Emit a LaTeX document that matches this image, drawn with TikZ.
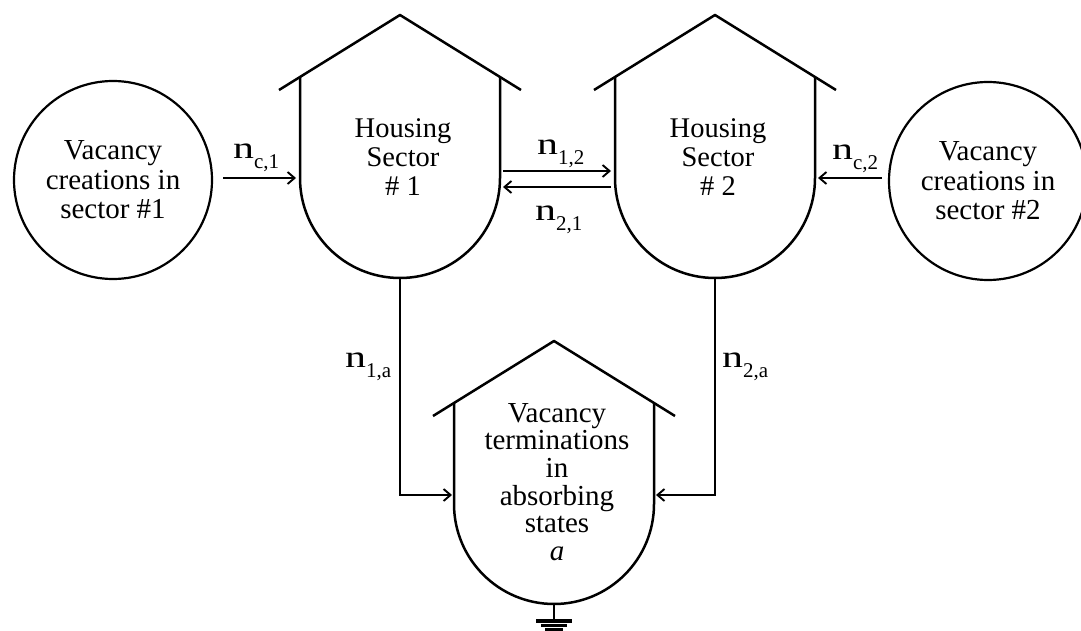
\documentclass[tikz,border=0pt]{standalone}
\usepackage{fontspec}
\setmainfont{Liberation Serif}
\usetikzlibrary{arrows.meta}
\newcommand{\nlab}[1]{\scalebox{1.35}[1]{n}\raisebox{-10pt}{\fontsize{21}{21}\selectfont #1}}
\tikzset{
  outline/.style={line width=2.5pt, line join=round},
  house/.pic={
    \draw[outline] (-121,-88) -- (0,-163) -- (121,-88);
    \draw[outline] (-100,-101) -- (-100,0) .. controls (-100,55.23) and (-55.23,100) .. (0,100)
      .. controls (55.23,100) and (100,55.23) .. (100,0) -- (100,-101);
    \coordinate (-w) at (-100,0);
    \coordinate (-e) at (100,0);
    \coordinate (-s) at (0,100);
  }
}
\begin{document}
\begin{tikzpicture}[x=1pt,y=-1pt,
  circ/.style={circle, draw, line width=2.2pt, minimum size=198pt, inner sep=0pt, align=center,
    font=\fontsize{29}{29.5}\selectfont},
  htext/.style={align=center, inner sep=0pt, font=\fontsize{28.5}{29}\selectfont},
  arr/.style={line width=2.1pt, -{Straight Barb[length=7pt,width=12pt,line width=1.9pt]}},
  lab/.style={anchor=base west, inner sep=0pt, font=\fontsize{31}{31}\selectfont}
]
\useasboundingbox (0,0) rectangle (1081,631);

% circles
\node[circ] (c1) at (113,180) {Vacancy\\creations in\\sector \#1};
\node[circ] (c2) at (988,181) {Vacancy\\creations in\\sector \#2};

% houses
\pic (h1) at (400,178) {house};
\pic (h2) at (715,178) {house};
\pic (ha) at (554,504) {house};

\node[htext] (t1) at (403,157) {Housing\\Sector\\\# 1};
\node[htext] (t2) at (718,157) {Housing\\Sector\\\# 2};
\node[htext, font=\fontsize{29}{27.6}\selectfont] (ta) at (557,482)
  {Vacancy\\terminations\\in\\absorbing\\states\\\textit{a}};

% connectors
\draw[arr, shorten <=10pt, shorten >=4pt] (c1.east |- h1-w) -- (h1-w);
\draw[arr, shorten <=3pt, shorten >=4pt] ([yshift=7pt]h1-e) -- ([yshift=7pt]h2-w);
\draw[arr, shorten <=4pt, shorten >=3pt] ([yshift=-9pt]h2-w) -- ([yshift=-9pt]h1-e);
\draw[arr, shorten <=6pt, shorten >=3pt] (c2.west |- h2-e) -- (h2-e);
\draw[arr, shorten >=2pt] (h1-s) |- ([yshift=9pt]ha-w);
\draw[arr, shorten >=2pt] (h2-s) |- ([yshift=9pt]ha-e);

% ground
\draw[outline] (ha-s) -- ++(0,17) coordinate (g);
\draw[line width=3.5pt] ([xshift=-18pt]g) -- ([xshift=18pt]g);
\draw[line width=3.5pt] ([xshift=-13pt,yshift=-4.5pt]g) -- ([xshift=13pt,yshift=-4.5pt]g);
\draw[line width=3.5pt] ([xshift=-9pt,yshift=-9pt]g) -- ([xshift=9pt,yshift=-9pt]g);

% labels
\node[lab] (lc1) at (233,159) {\nlab{c,1}};
\node[lab] (l12) at (537,155) {\nlab{1,2}};
\node[lab] (l21) at (535,220) {\nlab{2,1}};
\node[lab] (lc2) at (832,160) {\nlab{c,2}};
\node[lab] (l1a) at (345,367) {\nlab{1,a}};
\node[lab] (l2a) at (722,367) {\nlab{2,a}};
\end{tikzpicture}
\end{document}
